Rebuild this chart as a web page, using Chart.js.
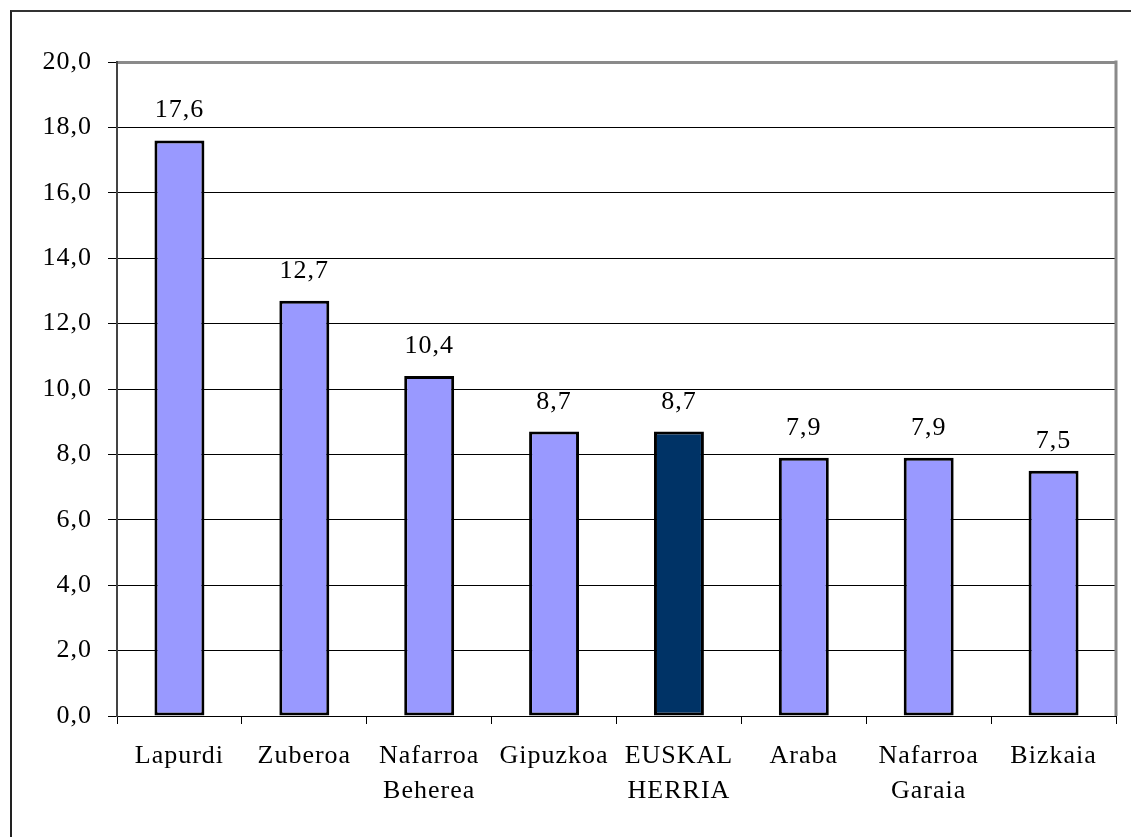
<!DOCTYPE html>
<html>
<head>
<meta charset="utf-8">
<script src="https://cdn.jsdelivr.net/npm/chart.js@4"></script>
<style>
  html, body { margin: 0; padding: 0; background: #fff; overflow: hidden; }
  #frame { position: absolute; left: 10px; top: 10px; width: 1200px; height: 900px;
           border-left: 2px solid #222; border-top: 2px solid #333; }
  #wrap { position: absolute; left: 0; top: 0; width: 1131px; height: 837px; }
</style>
</head>
<body>
<div id="frame"></div>
<div id="wrap"><canvas id="barChart" width="1131" height="837"></canvas></div>
<script>
const categories = ['Lapurdi', 'Zuberoa', ['Nafarroa', 'Beherea'], 'Gipuzkoa', ['EUSKAL', 'HERRIA'], 'Araba', ['Nafarroa', 'Garaia'], 'Bizkaia'];
const values = [17.6, 12.7, 10.4, 8.7, 8.7, 7.9, 7.9, 7.5];
const highlight = [false, false, false, false, true, false, false, false];
const yTicks = [0, 2, 4, 6, 8, 10, 12, 14, 16, 18, 20];

const fmt = v => v.toFixed(1).replace('.', ',');
const serif = '"Liberation Serif", "Times New Roman", serif';

// etiketak barren gainean
const valueLabels = {
    id: 'valueLabels',
    afterDatasetsDraw(chart) {
        const ctx = chart.ctx;
        const meta = chart.getDatasetMeta(0);
        ctx.save();
        ctx.font = '26px ' + serif;
        ctx.fillStyle = '#000';
        ctx.textAlign = 'center';
        ctx.textBaseline = 'alphabetic';
        meta.data.forEach((bar, i) => {
            ctx.fillText(fmt(values[i]), bar.x, bar.y - 23);
        });
        ctx.restore();
    }
};

// eskuineko ertz grisa
const plotBorder = {
    id: 'plotBorder',
    afterDraw(chart) {
        const a = chart.chartArea;
        const ctx = chart.ctx;
        ctx.save();
        ctx.strokeStyle = '#8a8a8a';
        ctx.lineWidth = 3;
        ctx.beginPath();
        ctx.moveTo(a.right, a.top - 1.5);
        ctx.lineTo(a.right, a.bottom);
        ctx.stroke();
        ctx.restore();
    },
    beforeDraw(chart) { chart.ctx.letterSpacing = '1px'; }
};

new Chart(document.getElementById('barChart').getContext('2d'), {
    type: 'bar',
    data: {
        labels: categories,
        datasets: [{
            data: values,
            backgroundColor: highlight.map(h => h ? '#003366' : '#9999ff'),
            borderColor: '#000',
            borderWidth: 3,
            borderSkipped: false,
            barPercentage: 0.4,
            categoryPercentage: 1.0
        }]
    },
    options: {
        responsive: false,
        animation: false,
        layout: { padding: { left: 0, right: 15, top: 62, bottom: 0 } },
        plugins: { legend: { display: false }, tooltip: { enabled: false } },
        scales: {
            x: {
                grid: { offset: true, drawOnChartArea: false, drawTicks: true, tickLength: 8, color: '#000', lineWidth: 1 },
                border: { display: true, color: '#000', width: 1 },
                ticks: { color: '#000', font: { family: serif, size: 26, lineHeight: 1.36 }, padding: 14, maxRotation: 0, autoSkip: false },
                afterFit: s => { s.height = 837 - 716; }
            },
            y: {
                min: 0,
                max: 20,
                afterBuildTicks: s => { s.ticks = yTicks.map(v => ({ value: v })); },
                grid: {
                    color: c => c.tick && c.tick.value === 20 ? '#8a8a8a' : '#000',
                    lineWidth: c => c.tick && c.tick.value === 20 ? 3 : 1,
                    tickLength: 9,
                    tickColor: '#000',
                    tickWidth: 1
                },
                border: { display: true, color: '#444', width: 2 },
                ticks: { color: '#000', font: { family: serif, size: 26 }, padding: 16, callback: v => fmt(v) },
                afterFit: s => { s.width = 117; }
            }
        }
    },
    plugins: [valueLabels, plotBorder]
});
</script>
</body>
</html>
